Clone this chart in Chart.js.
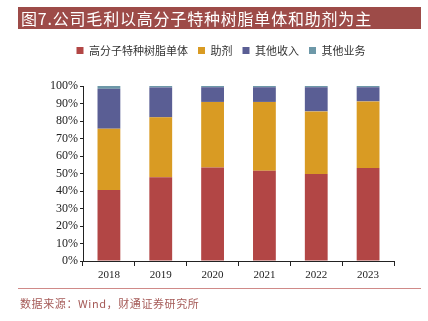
<!DOCTYPE html>
<html>
<head>
<meta charset="utf-8">
<script src="https://cdn.jsdelivr.net/npm/chart.js@4/dist/chart.umd.min.js"></script>
<style>
  html, body { margin: 0; padding: 0; background: #fff; }
  #wrap { position: relative; width: 428px; height: 321px; overflow: hidden; }
  #title {
    position: absolute; left: 18px; top: 7px; width: 403px; height: 22px;
    background: #9d4b48; color: #fff;
    font: 16px "Noto Sans CJK SC", sans-serif; line-height: 22px;
    padding-left: 3px; box-sizing: border-box; letter-spacing: 0.8px;
  }
  #line { position: absolute; left: 18px; top: 288px; width: 403px; height: 1px; background: #d08a88; }
  #src {
    position: absolute; left: 20px; top: 295px;
    font: 11px "Noto Sans CJK SC", sans-serif; color: #a55a57; letter-spacing: 0.6px;
  }
  canvas { position: absolute; left: 0; top: 0; }
</style>
</head>
<body>
<div id="wrap">
  <canvas id="c" width="428" height="321"></canvas>
  <div id="title">图7.公司毛利以高分子特种树脂单体和助剂为主</div>
  <div id="line"></div>
  <div id="src">数据来源：Wind，财通证券研究所</div>
</div>
<script>
// 年份
const years = ['2018', '2019', '2020', '2021', '2022', '2023'];

// 毛利构成 (%)
const resin = [40.6, 47.8, 53.5, 51.6, 49.7, 53.1];
const additive = [35.0, 34.3, 37.4, 39.3, 35.8, 38.1];
const otherIncome = [22.8, 17.1, 8.4, 8.4, 13.8, 8.1];
const otherBiz = [1.6, 0.8, 0.7, 0.7, 0.7, 0.7];

const names = ['高分子特种树脂单体', '助剂', '其他收入', '其他业务'];
const colors = ['#b24645', '#d99b23', '#5a5e94', '#6d98a8'];

// 固定图例高度
const legendHeight = {
  id: 'legendHeight',
  afterInit(chart) {
    const lg = chart.legend;
    const fit = lg.fit;
    lg.fit = function () { fit.call(this); this.height = 51; };
  }
};

const ctx = document.getElementById('c').getContext('2d');
new Chart(ctx, {
  type: 'bar',
  data: {
    labels: years,
    datasets: [resin, additive, otherIncome, otherBiz].map((d, i) => ({
      label: names[i],
      data: d,
      backgroundColor: colors[i],
      barPercentage: 0.44,
      categoryPercentage: 1
    }))
  },
  options: {
    responsive: false,
    animation: false,
    layout: { padding: { top: 35, left: 48, right: 34, bottom: 29 } },
    plugins: {
      legend: {
        position: 'top',
        labels: {
          boxWidth: 7, boxHeight: 7, padding: 10,
          color: '#333',
          font: { size: 11, family: '"Noto Sans CJK SC", sans-serif' }
        }
      },
      tooltip: { enabled: false }
    },
    scales: {
      x: {
        stacked: true,
        offset: true,
        grid: { offset: true, drawOnChartArea: false, tickLength: 5, color: '#222' },
        border: { color: '#222' },
        ticks: { color: '#222', padding: 3, font: { size: 11, family: '"Liberation Serif", serif' } },
        afterFit(s) { s.height = 31; }
      },
      y: {
        stacked: true,
        min: 0, max: 100,
        grid: { drawOnChartArea: false, tickLength: 3, color: '#222' },
        border: { color: '#222' },
        ticks: {
          stepSize: 10, color: '#222', padding: 2,
          font: { size: 12, family: '"Liberation Serif", serif' },
          callback: v => v + '%'
        },
        afterFit(s) { s.width = 35; }
      }
    }
  },
  plugins: [legendHeight]
});
</script>
</body>
</html>
